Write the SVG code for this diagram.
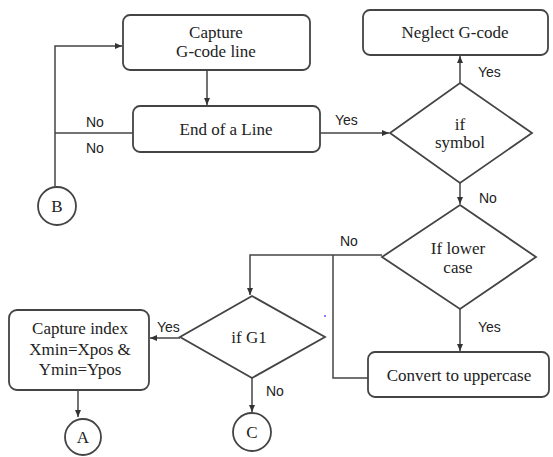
<svg xmlns="http://www.w3.org/2000/svg" width="553" height="457" viewBox="0 0 553 457">
<defs>
<marker id="ah" markerWidth="8" markerHeight="8" refX="7" refY="4" orient="auto" markerUnits="userSpaceOnUse">
<path d="M0,1 L7,4 L0,7 Z" fill="#333"/>
</marker>
</defs>
<style>
.box{fill:#fff;stroke:#444;stroke-width:1.8}
.ln{fill:none;stroke:#444;stroke-width:1.5}
</style>
<rect width="553" height="457" fill="#fff"/>
<g id="connectors">
<path class="ln" d="M207,70 V105" marker-end="url(#ah)"/>
<path class="ln" d="M133,133 H55"/>
<path class="ln" d="M55,186 V46 H122" marker-end="url(#ah)"/>
<path class="ln" d="M320,133 H389" marker-end="url(#ah)"/>
<path class="ln" d="M460,83 V56" marker-end="url(#ah)"/>
<path class="ln" d="M460,183 V204" marker-end="url(#ah)"/>
<path class="ln" d="M460,309 V351" marker-end="url(#ah)"/>
<path class="ln" d="M382,255 H250 V295" marker-end="url(#ah)"/>
<path class="ln" d="M333,255 V378 H368"/>
<path class="ln" d="M180,338 H150" marker-end="url(#ah)"/>
<path class="ln" d="M78,390 V417" marker-end="url(#ah)"/>
<path class="ln" d="M252,378 V412" marker-end="url(#ah)"/>
<g font-family="Liberation Sans, Arial, sans-serif" font-size="14" fill="#222">
<text x="86" y="127">No</text>
<text x="86" y="153">No</text>
<text x="335" y="125">Yes</text>
<text x="478" y="77">Yes</text>
<text x="479" y="203">No</text>
<text x="340" y="246">No</text>
<text x="478" y="332">Yes</text>
<text x="157" y="332">Yes</text>
<text x="266" y="396">No</text>
</g>
</g>
<g font-family="Liberation Serif, Times New Roman, serif" font-size="17" fill="#222" text-anchor="middle">
<g id="capture-line"><rect class="box" x="123" y="15" width="187" height="55" rx="7"/><text x="216" y="38">Capture</text><text x="216" y="57">G-code line</text></g>
<g id="end-of-line"><rect class="box" x="133" y="106" width="187" height="46" rx="7"/><text x="226" y="135">End of a Line</text></g>
<g id="neglect"><rect class="box" x="363" y="10" width="185" height="45" rx="7"/><text x="455" y="38">Neglect G-code</text></g>
<g id="if-symbol"><polygon class="box" points="460,83 532,133 460,183 390,133"/><text x="460" y="130">if</text><text x="460" y="148">symbol</text></g>
<g id="if-lower"><polygon class="box" points="460,205 536,257 460,309 382,257"/><text x="458" y="254">If lower</text><text x="458" y="273">case</text></g>
<g id="convert"><rect class="box" x="368" y="352" width="181" height="45" rx="7"/><text x="459" y="381">Convert to uppercase</text></g>
<g id="if-g1"><polygon class="box" points="252,296 325,337 252,378 180,337"/><text x="249" y="343">if G1</text></g>
<g id="capture-index"><rect class="box" x="9" y="310" width="140" height="80" rx="8"/><text x="80" y="334">Capture index</text><text x="80" y="355">Xmin=Xpos &amp;</text><text x="80" y="375">Ymin=Ypos</text></g>
<g id="B"><circle class="box" cx="57" cy="206" r="19"/><text x="57" y="212">B</text></g>
<g id="A"><circle class="box" cx="83" cy="437" r="18"/><text x="83" y="443">A</text></g>
<g id="C"><circle class="box" cx="252" cy="432" r="19"/><text x="252" y="438">C</text></g>
</g>
<circle cx="325" cy="316" r="1" fill="#55f"/>
</svg>
